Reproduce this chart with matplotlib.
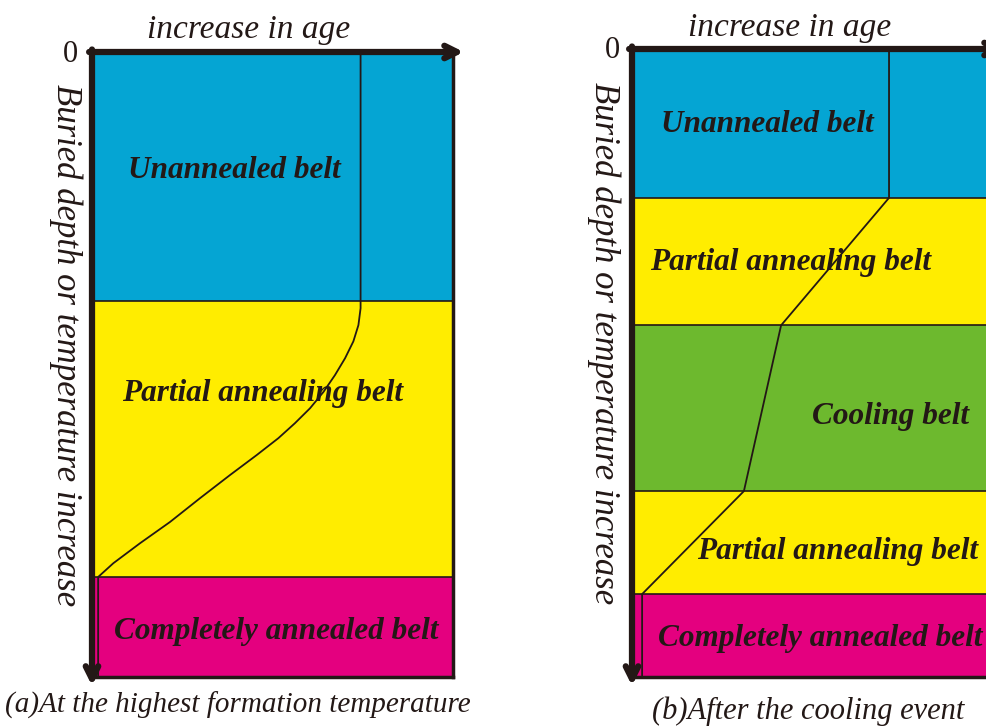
import matplotlib
matplotlib.use("Agg")
import matplotlib.pyplot as plt
from matplotlib.patches import Rectangle

# ---------------- data ----------------
# Panel (a): depth boundaries (fraction of axis depth, 0 = surface)
a_bounds = [0.0, 0.398, 0.84, 1.0]
a_belts = ["Unannealed belt", "Partial annealing belt", "Completely annealed belt"]
a_colors = ["#05A5D3", "#FFED00", "#E4007F"]
# age curve of panel (a): (age, depth)
a_curve_x = [0.744, 0.744, 0.744, 0.738, 0.724, 0.701, 0.673, 0.641, 0.604, 0.562,
             0.516, 0.456, 0.382, 0.299, 0.216, 0.133, 0.059, 0.017, 0.017]
a_curve_y = [0.0, 0.398, 0.410, 0.437, 0.463, 0.490, 0.517, 0.544, 0.570, 0.594,
             0.618, 0.645, 0.677, 0.714, 0.752, 0.786, 0.818, 0.840, 1.0]
a_label_pos = [(0.395, 0.19), (0.471, 0.546), (0.51, 0.927)]

# Panel (b)
b_bounds = [0.0, 0.237, 0.44, 0.704, 0.868, 1.0]
b_belts = ["Unannealed belt", "Partial annealing belt", "Cooling belt",
           "Partial annealing belt", "Completely annealed belt"]
b_colors = ["#05A5D3", "#FFED00", "#6DB92E", "#FFED00", "#E4007F"]
b_curve_x = [0.712, 0.712, 0.413, 0.310, 0.028, 0.028]
b_curve_y = [0.0, 0.237, 0.440, 0.704, 0.868, 1.0]
b_label_pos = [(0.375, 0.12), (0.44, 0.34), (0.717, 0.585), (0.57, 0.8), (0.521, 0.938)]

x_label = "increase in age"
y_label = "Buried depth or temperature increase"
captions = ["(a)At the highest formation temperature", "(b)After the cooling event"]

# ---------------- figure ----------------
W, H = 987, 727
fig = plt.figure(figsize=(W / 100, H / 100), dpi=100)
fig.patch.set_facecolor("white")

serif = ["Liberation Serif", "DejaVu Serif"]
txt_col = "#231816"

def px_axes(l, t, r, b):
    return fig.add_axes([l / W, 1 - b / H, (r - l) / W, (b - t) / H])

def draw_panel(ax, bounds, belts, colors, cx, cy, lpos):
    ax.set_xlim(0, 1)
    ax.set_ylim(1, 0)
    for i in range(len(belts)):
        ax.add_patch(Rectangle((0, bounds[i]), 1, bounds[i + 1] - bounds[i],
                               facecolor=colors[i], edgecolor="none", zorder=1))
    for yb in bounds[1:-1]:
        ax.axhline(yb, color=txt_col, lw=1.2, zorder=2)
    ax.plot(cx, cy, color=txt_col, lw=1.3, zorder=3, solid_joinstyle="round")
    for name, (x, y) in zip(belts, lpos):
        ax.text(x, y, name, ha="center", va="center", fontsize=22.5,
                fontweight="bold", style="italic", family=serif, color=txt_col, zorder=4)
    ax.set_xticks([])
    ax.set_yticks([])
    for s in ["right", "bottom"]:
        ax.spines[s].set_linewidth(2.5)
        ax.spines[s].set_color(txt_col)
    for s in ["left", "top"]:
        ax.spines[s].set_visible(False)
    ax.annotate("", xy=(1.03, 1.0), xytext=(-0.008, 1.0), xycoords="axes fraction",
                arrowprops=dict(arrowstyle="->,head_length=0.9,head_width=0.45",
                                lw=4.5, color=txt_col, shrinkA=0, shrinkB=0),
                annotation_clip=False, zorder=5)
    ax.annotate("", xy=(0.0, -0.014), xytext=(0.0, 1.004), xycoords="axes fraction",
                arrowprops=dict(arrowstyle="->,head_length=0.9,head_width=0.45",
                                lw=4.5, color=txt_col, shrinkA=0, shrinkB=0),
                annotation_clip=False, zorder=5)

ax_a = px_axes(92, 52, 453, 677)
draw_panel(ax_a, a_bounds, a_belts, a_colors, a_curve_x, a_curve_y, a_label_pos)

ax_b = px_axes(632, 49, 993, 677)
draw_panel(ax_b, b_bounds, b_belts, b_colors, b_curve_x, b_curve_y, b_label_pos)

def ftext(x, y, s, **kw):
    fig.text(x / W, 1 - y / H, s, family=serif, style="italic", color=txt_col, **kw)

ftext(249, 30, x_label, fontsize=24, ha="center", va="center")
ftext(790, 28, x_label, fontsize=24, ha="center", va="center")
fig.text(70 / W, 1 - 55 / H, "0", family=serif, fontsize=22, ha="center", va="center", color=txt_col)
fig.text(612 / W, 1 - 51 / H, "0", family=serif, fontsize=22, ha="center", va="center", color=txt_col)
ftext(66, 345, y_label, fontsize=25, ha="center", va="center", rotation=-90)
ftext(604, 343, y_label, fontsize=25, ha="center", va="center", rotation=-90)
ftext(238, 705, captions[0], fontsize=21, ha="center", va="center")
ftext(808, 711, captions[1], fontsize=22, ha="center", va="center")

fig.savefig("out.png", dpi=100, facecolor="white")
